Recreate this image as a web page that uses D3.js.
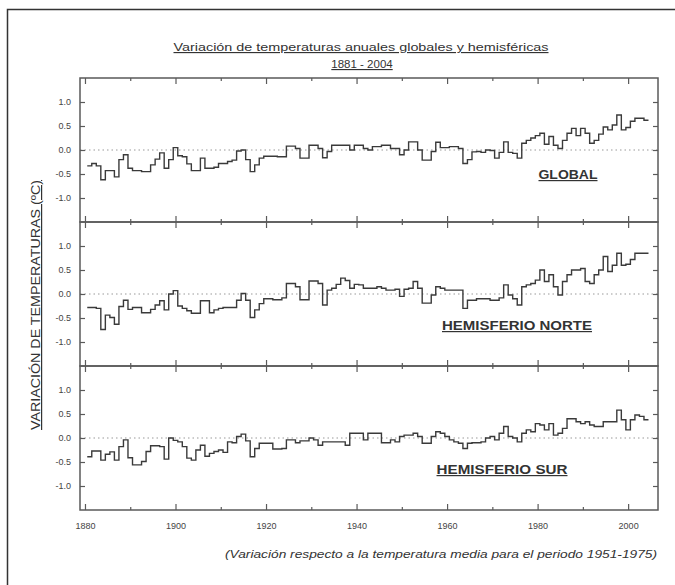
<!DOCTYPE html>
<html>
<head>
<meta charset="utf-8">
<script src="https://cdn.jsdelivr.net/npm/d3@7"></script>
<style>
  body { margin: 0; background: #fff; }
  svg { display: block; font-family: "Liberation Sans", Arial, sans-serif; }
</style>
</head>
<body>
<svg id="chart" width="675" height="585"></svg>
<script>
// years 1881 - 2004
var firstYear = 1881;

// anomalies (ºC, respecto a 1951-1975)
var globalVals = [
  -0.33, -0.28, -0.33, -0.62, -0.43, -0.43, -0.56, -0.20, -0.10, -0.38,
  -0.43, -0.43, -0.45, -0.45, -0.31, -0.19, -0.06, -0.38, -0.20, 0.05,
  -0.12, -0.14, -0.29, -0.43, -0.43, -0.17, -0.38, -0.38, -0.36, -0.28,
  -0.28, -0.24, -0.21, -0.02, 0.00, -0.20, -0.45, -0.31, -0.17, -0.13,
  -0.13, -0.13, -0.14, -0.14, 0.08, 0.08, 0.03, -0.17, -0.17, 0.10,
  0.10, 0.03, -0.16, -0.03, 0.10, 0.10, 0.10, 0.10, 0.00, 0.10,
  0.10, 0.03, 0.00, 0.07, 0.07, 0.10, 0.10, 0.03, 0.03, -0.10,
  0.00, 0.17, 0.17, 0.00, -0.21, -0.21, -0.03, 0.16, 0.05, 0.05,
  0.07, 0.07, 0.03, -0.28, -0.20, -0.04, -0.03, -0.05, 0.00, -0.01,
  -0.17, -0.05, 0.17, -0.05, -0.07, -0.17, 0.14, 0.20, 0.25, 0.30,
  0.35, 0.12, 0.28, 0.10, 0.03, 0.20, 0.35, 0.45, 0.30, 0.45,
  0.35, 0.14, 0.20, 0.33, 0.48, 0.42, 0.52, 0.73, 0.42, 0.47,
  0.60, 0.66, 0.66, 0.62
];

var norteVals = [
  -0.28, -0.28, -0.30, -0.74, -0.44, -0.49, -0.63, -0.26, -0.13, -0.32,
  -0.28, -0.28, -0.39, -0.39, -0.32, -0.23, -0.14, -0.33, 0.00, 0.07,
  -0.25, -0.30, -0.35, -0.40, -0.40, -0.14, -0.14, -0.39, -0.33, -0.30,
  -0.28, -0.28, -0.28, -0.13, 0.01, -0.13, -0.49, -0.33, -0.20, -0.10,
  -0.10, -0.12, -0.12, -0.08, 0.22, 0.22, 0.15, -0.12, -0.12, 0.27,
  0.27, 0.22, -0.23, 0.08, 0.12, 0.20, 0.33, 0.28, 0.12, 0.20,
  0.19, 0.12, 0.12, 0.12, 0.15, 0.12, 0.08, 0.08, 0.10, -0.05,
  0.10, 0.12, 0.26, 0.12, -0.19, -0.19, -0.02, 0.15, 0.12, 0.08,
  0.08, 0.08, 0.08, -0.30, -0.13, -0.13, -0.10, -0.10, -0.10, -0.13,
  -0.13, -0.08, 0.19, -0.02, -0.10, -0.23, 0.15, 0.19, 0.22, 0.29,
  0.50, 0.26, 0.40, 0.15, -0.02, 0.26, 0.40, 0.50, 0.50, 0.53,
  0.26, 0.22, 0.40, 0.50, 0.78, 0.47, 0.60, 0.85, 0.60, 0.62,
  0.72, 0.85, 0.85, 0.85
];

var surVals = [
  -0.39, -0.27, -0.27, -0.46, -0.34, -0.29, -0.46, -0.18, -0.04, -0.41,
  -0.56, -0.56, -0.49, -0.28, -0.16, -0.16, -0.18, -0.44, 0.00, -0.05,
  -0.08, -0.18, -0.42, -0.46, -0.25, -0.15, -0.38, -0.32, -0.28, -0.25,
  -0.30, -0.08, -0.10, 0.03, 0.08, -0.06, -0.39, -0.22, -0.11, -0.11,
  -0.11, -0.23, -0.23, -0.22, -0.04, -0.04, -0.10, -0.06, -0.06, 0.00,
  -0.04, -0.15, -0.08, -0.08, -0.08, -0.08, -0.08, -0.15, 0.10, 0.10,
  0.10, -0.04, 0.10, 0.10, 0.10, -0.10, -0.10, -0.04, -0.08, 0.03,
  0.06, 0.06, 0.10, 0.03, -0.11, -0.11, 0.03, 0.13, 0.10, 0.03,
  -0.04, -0.08, -0.11, -0.22, -0.11, -0.10, -0.10, -0.08, 0.00, 0.03,
  -0.04, 0.10, 0.24, 0.03, 0.00, -0.08, 0.10, 0.17, 0.13, 0.30,
  0.27, 0.17, 0.30, 0.06, 0.10, 0.20, 0.40, 0.40, 0.34, 0.30,
  0.34, 0.27, 0.24, 0.24, 0.34, 0.34, 0.34, 0.58, 0.38, 0.17,
  0.38, 0.48, 0.45, 0.38
];

var panelNames = ["GLOBAL", "HEMISFERIO NORTE", "HEMISFERIO SUR"];
var xMajorTicks = [1880, 1900, 1920, 1940, 1960, 1980, 2000];
var xMinorTicks = [1890, 1910, 1930, 1950, 1970, 1990];
var yTicks = [-1, -0.5, 0, 0.5, 1];
var yTickLabels = ["-1.0", "-0.5", "0.0", "0.5", "1.0"];

var titleLines = ["Variación de temperaturas anuales globales y hemisféricas", "1881 - 2004"];
var yTitle = "VARIACIÓN DE TEMPERATURAS (ºC)";
var footNote = "(Variación respecto a la temperatura media para el periodo 1951-1975)";

var svg = d3.select("#chart");

// outer frame
svg.append("rect")
    .attr("x", 7.5).attr("y", 9.5)
    .attr("width", 700).attr("height", 600)
    .attr("fill", "none").attr("stroke", "#333").attr("stroke-width", 1.5);

var left = 80, right = 658, top0 = 78, panelH = 144;
var axisColor = "#5a5a5a";

var x = d3.scaleLinear().domain([1878.9, 2006.6]).range([left, right]);
var y = d3.scaleLinear().domain([-1.5, 1.5]).range([panelH, 0]);

var series = [globalVals, norteVals, surVals];
// centre x, baseline y, width of each panel name
var labelPos = [[568, 179, 59], [517, 330, 150], [502, 474, 131]];

var line = d3.line()
    .curve(d3.curveStepAfter)
    .x(function(d) { return x(d[0]); })
    .y(function(d) { return y(d[1]); });

series.forEach(function(vals, i) {
    var g = svg.append("g").attr("transform", "translate(0," + (top0 + i * panelH) + ")");

    // zero line
    g.append("line")
        .attr("x1", left).attr("x2", right)
        .attr("y1", y(0)).attr("y2", y(0))
        .attr("stroke", "#999").attr("stroke-width", 1)
        .attr("stroke-dasharray", "1.5,3");

    // steps: each year spans year-0.5 .. year+0.5
    var pts = vals.map(function(v, k) { return [firstYear + k - 0.5, v]; });
    pts.push([firstYear + vals.length - 0.5, vals[vals.length - 1]]);
    g.append("path")
        .datum(pts)
        .attr("fill", "none")
        .attr("stroke", "#3a3a3a")
        .attr("stroke-width", 1.4)
        .attr("d", line);

    // y axis left with labels, ticks inward
    var yl = g.append("g").attr("transform", "translate(" + left + ",0)")
        .call(d3.axisLeft(y).tickValues(yTicks).tickSizeInner(-5).tickSizeOuter(0).tickPadding(9)
            .tickFormat(function(d, k) { return yTickLabels[k]; }));
    // right ticks
    var yr = g.append("g").attr("transform", "translate(" + right + ",0)")
        .call(d3.axisRight(y).tickValues(yTicks).tickSizeInner(-5).tickSizeOuter(0).tickFormat(""));

    // x ticks on top and bottom of each panel
    var xb = g.append("g").attr("transform", "translate(0," + panelH + ")")
        .call(d3.axisBottom(x).tickValues(xMajorTicks).tickSizeInner(-6).tickSizeOuter(0).tickPadding(13)
            .tickFormat(i === 2 ? d3.format("d") : ""));
    var xbm = g.append("g").attr("transform", "translate(0," + panelH + ")")
        .call(d3.axisBottom(x).tickValues(xMinorTicks).tickSizeInner(-3).tickSizeOuter(0).tickFormat(""));
    var xt = g.append("g")
        .call(d3.axisTop(x).tickValues(xMajorTicks).tickSizeInner(-6).tickSizeOuter(0).tickFormat(""));
    var xtm = g.append("g")
        .call(d3.axisTop(x).tickValues(xMinorTicks).tickSizeInner(-3).tickSizeOuter(0).tickFormat(""));

    [yl, yr, xb, xbm, xt, xtm].forEach(function(a) {
        a.select(".domain").remove();
        a.selectAll(".tick line").attr("stroke", axisColor).attr("stroke-width", 1.2);
        a.selectAll(".tick text").attr("fill", "#444").attr("font-size", "9px")
            .attr("font-family", "'Liberation Sans', Arial, sans-serif");
    });

    // panel border
    g.append("rect")
        .attr("x", left).attr("y", 0)
        .attr("width", right - left).attr("height", panelH)
        .attr("fill", "none").attr("stroke", axisColor).attr("stroke-width", 1.5);

    // panel name
    g.append("text")
        .attr("x", labelPos[i][0]).attr("y", labelPos[i][1] - top0 - i * panelH)
        .attr("text-anchor", "middle")
        .attr("font-size", "12px").attr("font-weight", "bold")
        .attr("text-decoration", "underline")
        .attr("textLength", labelPos[i][2]).attr("lengthAdjust", "spacingAndGlyphs")
        .attr("fill", "#333")
        .text(panelNames[i]);
});

// title
svg.append("text")
    .attr("x", 361).attr("y", 51)
    .attr("text-anchor", "middle")
    .attr("font-size", "11.5px").attr("fill", "#333")
    .attr("text-decoration", "underline")
    .attr("textLength", 375).attr("lengthAdjust", "spacingAndGlyphs")
    .text(titleLines[0]);
svg.append("text")
    .attr("x", 362).attr("y", 68)
    .attr("text-anchor", "middle")
    .attr("font-size", "11.5px").attr("fill", "#333")
    .attr("text-decoration", "underline")
    .text(titleLines[1]);

// y axis title
svg.append("text")
    .attr("transform", "translate(40,305) rotate(-90)")
    .attr("text-anchor", "middle")
    .attr("font-size", "12px").attr("fill", "#333")
    .attr("text-decoration", "underline")
    .attr("textLength", 250).attr("lengthAdjust", "spacingAndGlyphs")
    .text(yTitle);

// footnote
svg.append("text")
    .attr("x", 657).attr("y", 558)
    .attr("text-anchor", "end")
    .attr("font-size", "11.5px").attr("font-style", "italic").attr("fill", "#333")
    .attr("textLength", 432).attr("lengthAdjust", "spacingAndGlyphs")
    .text(footNote);
</script>
</body>
</html>
